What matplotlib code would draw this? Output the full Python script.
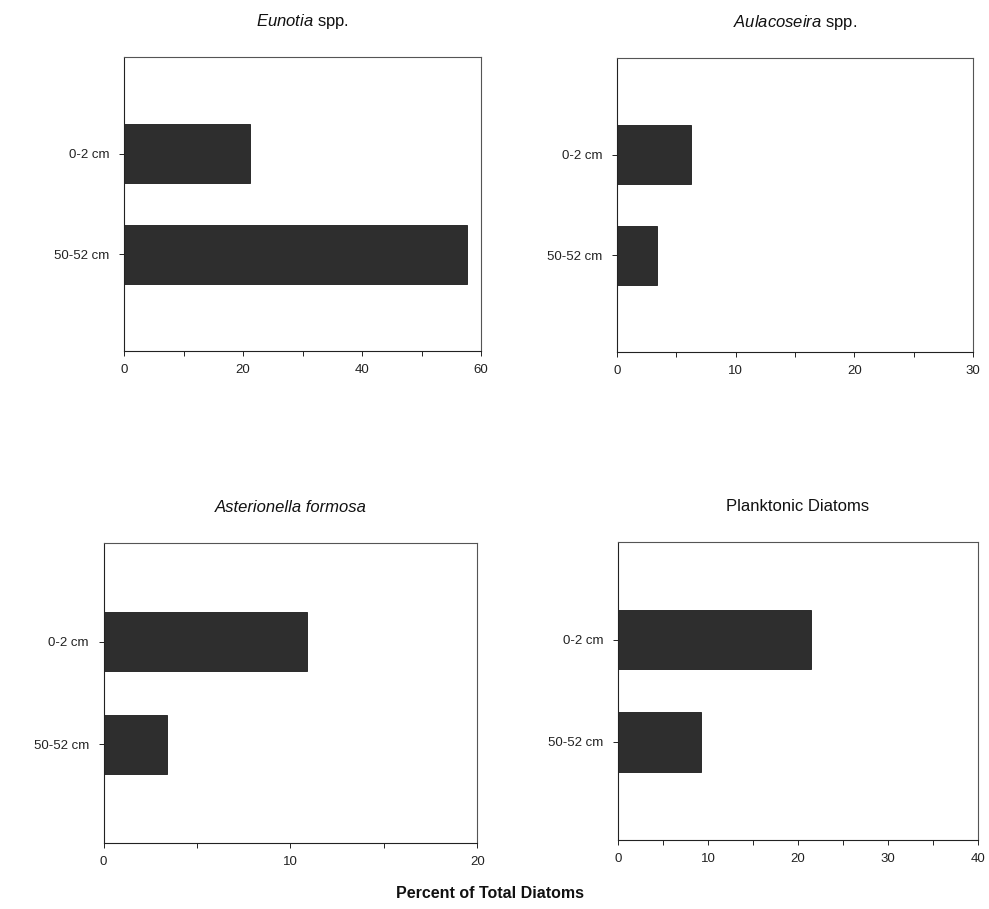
import matplotlib
matplotlib.use('Agg')
import matplotlib.pyplot as plt
from matplotlib.ticker import MultipleLocator

plt.rcParams['font.family'] = ['Liberation Sans', 'DejaVu Sans']
plt.rcParams['mathtext.fontset'] = 'custom'
plt.rcParams['mathtext.it'] = 'Liberation Sans:italic'
plt.rcParams['mathtext.rm'] = 'Liberation Sans'

depths = ['0-2 cm', '50-52 cm']

eunotia = [21.2, 57.6]
aulacoseira = [6.2, 3.4]
asterionella = [10.9, 3.4]
planktonic = [21.4, 9.2]

titles = [r'$\it{Eunotia}$ spp.', r'$\it{Aulacoseira}$ spp.',
          'Asterionella formosa', 'Planktonic Diatoms']
title_styles = ['normal', 'normal', 'italic', 'normal']
xmax = [60, 30, 20, 40]
major_step = [20, 10, 10, 10]
minor_step = [10, 5, 5, 5]

# axes rectangles in figure fractions (left, bottom, width, height)
rects = [
    [0.1254, 0.6139, 0.3610, 0.3234],
    [0.6239, 0.6128, 0.3600, 0.3234],
    [0.1047, 0.0726, 0.3780, 0.3300],
    [0.6249, 0.0759, 0.3640, 0.3280],
]

fig = plt.figure(figsize=(9.89, 9.09), dpi=100)

for i, vals in enumerate([eunotia, aulacoseira, asterionella, planktonic]):
    ax = fig.add_axes(rects[i])
    ax.barh(range(len(depths)), vals, height=0.58, color='#2e2e2e',
            edgecolor='#1a1a1a', linewidth=0.6)
    ax.set_yticks(range(len(depths)))
    ax.set_yticklabels(depths)
    ax.set_ylim(1.96, -0.96)
    ax.set_xlim(0, xmax[i])
    ax.xaxis.set_major_locator(MultipleLocator(major_step[i]))
    ax.xaxis.set_minor_locator(MultipleLocator(minor_step[i]))
    ax.tick_params(axis='both', which='both', direction='out', length=3.5,
                   width=0.7, colors='#222222', labelsize=9.5)
    ax.tick_params(axis='y', pad=7)
    ax.tick_params(axis='x', pad=6)
    for sp in ax.spines.values():
        sp.set_linewidth(0.8)
        sp.set_color('#555555')
    ax.spines['left'].set_color('#222222')
    ax.spines['bottom'].set_color('#222222')
    ax.set_title(titles[i], fontsize=12, fontstyle=title_styles[i],
                 pad=22, color='#111111')

fig.text(0.495, 0.0176, 'Percent of Total Diatoms', ha='center', va='center',
         fontsize=11.5, fontweight='bold', color='#111111')

fig.savefig('out.png', dpi=100)
